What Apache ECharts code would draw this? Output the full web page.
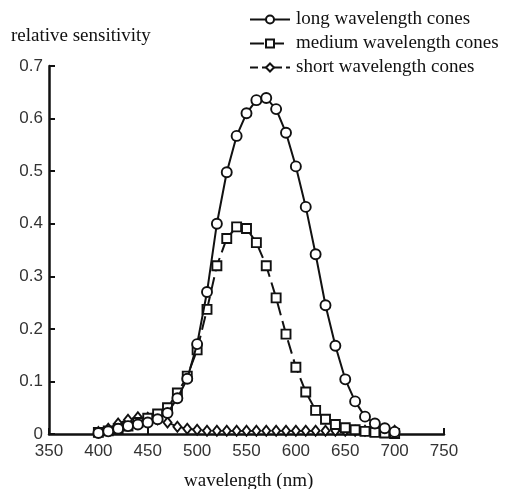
<!DOCTYPE html>
<html>
<head>
<meta charset="utf-8">
<script src="https://cdn.jsdelivr.net/npm/echarts@6/dist/echarts.min.js"></script>
<style>html,body{margin:0;padding:0;background:#fff;}#c{width:510px;height:489px;}</style>
</head>
<body>
<div id="c"></div>
<script>
const wavelengths = [400,410,420,430,440,450,460,470,480,490,500,510,520,530,540,550,560,570,580,590,600,610,620,630,640,650,660,670,680,690,700];
const longCones = [0.002,0.005,0.010,0.015,0.018,0.022,0.028,0.040,0.068,0.105,0.171,0.270,0.400,0.498,0.567,0.610,0.635,0.639,0.618,0.573,0.509,0.432,0.342,0.245,0.168,0.104,0.062,0.033,0.020,0.011,0.004];
const mediumCones = [0.003,0.006,0.010,0.015,0.022,0.030,0.038,0.050,0.078,0.110,0.160,0.237,0.320,0.372,0.394,0.391,0.364,0.320,0.259,0.190,0.127,0.080,0.045,0.028,0.018,0.012,0.008,0.005,0.003,0.002,0.001];
const shortCones = [0.004,0.010,0.020,0.027,0.032,0.031,0.028,0.022,0.014,0.010,0.008,0.006,0.006,0.006,0.006,0.006,0.006,0.006,0.006,0.006,0.006,0.006,0.006,0.006,0.006,0.006,0.006,0.006,0.006,0.006,0.006];
const seriesNames = ['long wavelength cones','medium wavelength cones','short wavelength cones'];
const xTicks = [350,400,450,500,550,600,650,700,750];
const yTicks = [0,0.1,0.2,0.3,0.4,0.5,0.6,0.7];

const chart = echarts.init(document.getElementById('c'));
const serif = '"Liberation Serif", "DejaVu Serif", serif';
const sans = '"Liberation Sans", Arial, sans-serif';
function pairs(vals){ return wavelengths.map((w,i)=>[w, vals[i]]); }
const common = {
  type: 'line',
  symbolSize: 9,
  itemStyle: {color: '#fff', borderColor: '#111', borderWidth: 1.9},
  emphasis: {disabled: true},
  animation: false
};
chart.setOption({
  backgroundColor: '#fff',
  animation: false,
  grid: {left: 49, right: 66, top: 66, bottom: 55},
  legend: {
    orient: 'vertical', left: 244, top: 5, itemWidth: 40, itemHeight: 10, itemGap: 5,
    textStyle: {fontFamily: serif, fontSize: 19, color: '#111', padding: [0, 0, 0, 1]},
    data: seriesNames
  },
  graphic: [
    {type: 'text', left: 11, top: 27, style: {text: 'relative sensitivity', font: '19px ' + serif, fill: '#111'}},
    {type: 'text', left: 184, top: 472, style: {text: 'wavelength (nm)', font: '19px ' + serif, fill: '#111'}}
  ],
  xAxis: {
    type: 'value', min: xTicks[0], max: xTicks[xTicks.length-1], interval: 50,
    axisLine: {lineStyle: {color: '#111', width: 2.5}},
    axisTick: {inside: true, length: 6, lineStyle: {color: '#111', width: 2}},
    axisLabel: {fontFamily: sans, fontSize: 17, color: '#333', margin: 9},
    splitLine: {show: false}
  },
  yAxis: {
    type: 'value', min: yTicks[0], max: yTicks[yTicks.length-1], interval: 0.1,
    axisLine: {show: true, lineStyle: {color: '#111', width: 2.5}},
    axisTick: {show: true, inside: true, length: 6, lineStyle: {color: '#111', width: 2}},
    axisLabel: {fontFamily: sans, fontSize: 17, color: '#333', margin: 6},
    splitLine: {show: false}
  },
  series: [
    Object.assign({}, common, {name: seriesNames[2], data: pairs(shortCones), symbol: 'diamond', symbolSize: [8, 10],
      lineStyle: {color: '#111', width: 1.8, type: [8, 4]}, z: 2}),
    Object.assign({}, common, {name: seriesNames[1], data: pairs(mediumCones), symbol: 'rect',
      lineStyle: {color: '#111', width: 2, type: [14, 6]}, z: 3}),
    Object.assign({}, common, {name: seriesNames[0], data: pairs(longCones), symbol: 'circle', symbolSize: 10,
      lineStyle: {color: '#111', width: 2}, z: 4})
  ]
});
</script>
</body>
</html>
